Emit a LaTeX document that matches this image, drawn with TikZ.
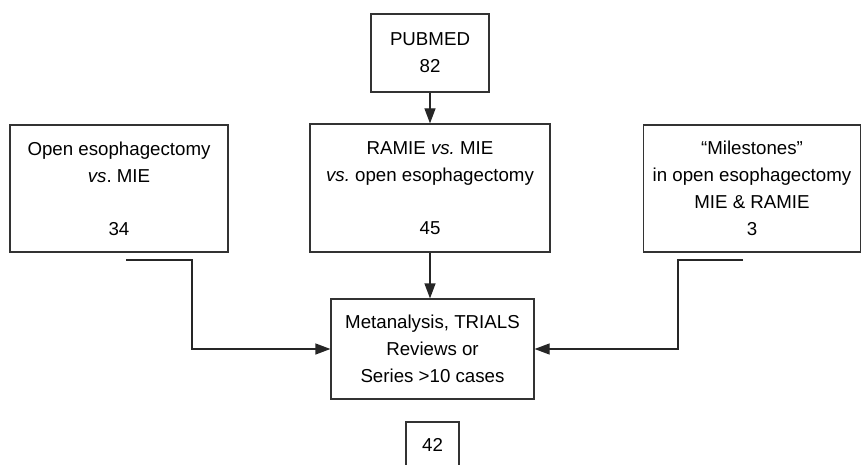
\documentclass[tikz,border=0pt]{standalone}
\usepackage{fontspec}
\setmainfont{Liberation Sans}
\usetikzlibrary{arrows.meta}
\frenchspacing
\begin{document}
\begin{tikzpicture}[x=1pt,y=-1pt,
  box/.style={draw=black!80, line width=1.2pt, align=center, inner sep=0pt,
    font=\fontsize{18.7}{27}\selectfont},
  lbl/.style={inner sep=0pt, font=\fontsize{18.7}{27}\selectfont},
  conn/.style={draw=black!85, line width=1.2pt},
  arr/.style={conn, -{Triangle[length=15pt,width=11pt]}}]
\useasboundingbox (0,0) rectangle (861,465);
\node[box, minimum width=118pt, minimum height=78pt] (pubmed) at (430,53) {PUBMED\\82};
\node[box, minimum width=218pt, minimum height=127pt] (left) at (119,188.5)
  {Open esophagectomy\\\textit{vs}. MIE\\[26pt]34};
\node[box, minimum width=240pt, minimum height=128pt] (mid) at (430,188)
  {RAMIE \textit{vs.} MIE\\\textit{vs.} open esophagectomy\\[26pt]45};
\node[box, minimum width=217pt, minimum height=127pt] (right) at (752,188.5)
  {“Milestones”\\in open esophagectomy\\MIE \& RAMIE\\3};
\node[box, minimum width=203pt, minimum height=100pt] (meta) at (432.5,349)
  {Metanalysis, TRIALS\\Reviews or\\Series >10 cases};
\node[lbl] (n42) at (432.5,445) {42};
\coordinate (b1) at (406,466);
\coordinate (b2) at (406,422);
\coordinate (b3) at (459,422);
\coordinate (b4) at (459,466);
\draw[conn, draw=black!80] (b1) -- (b2) -- (b3) -- (b4);
\coordinate (ls) at (126,260);
\coordinate (lk) at (192,260);
\coordinate (rs) at (743,260);
\coordinate (rk) at (678,260);
\draw[arr] (pubmed.south) -- (mid.north);
\draw[arr] (mid.south) -- (mid.south |- meta.north);
\draw[arr] (ls) -- (lk) |- (meta.west);
\draw[arr] (rs) -- (rk) |- (meta.east);
\end{tikzpicture}
\end{document}
